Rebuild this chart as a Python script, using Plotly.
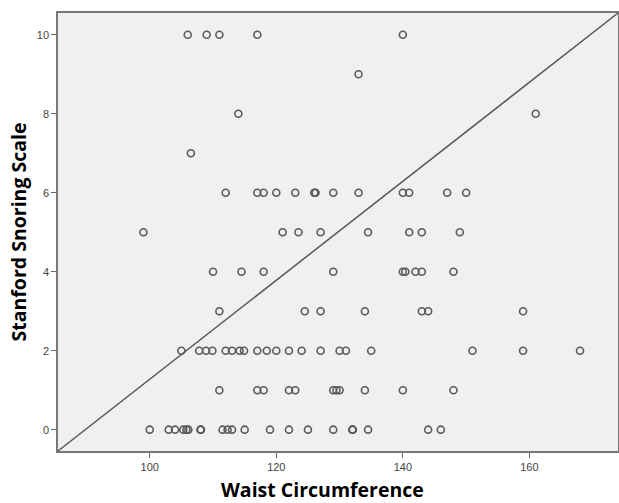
import plotly.graph_objects as go

# Waist circumference values for each Stanford Snoring Scale score
waist_10 = [106, 109, 111, 117, 140]
waist_9 = [133]
waist_8 = [114, 161]
waist_7 = [106.5]
waist_6 = [112, 117, 118, 120, 123, 126, 126.2, 129, 133, 140, 141, 147, 150]
waist_5 = [99, 121, 123.5, 127, 134.5, 141, 143, 149]
waist_4 = [110, 114.5, 118, 129, 140, 140.4, 142, 143, 148]
waist_3 = [111, 124.5, 127, 134, 143, 144, 159]
waist_2 = [105, 107.8, 108.9, 109.9, 112, 113, 114.2, 114.9, 117, 118.5, 120, 122,
           124, 127, 130, 131, 135, 151, 159, 168]
waist_1 = [111, 117, 118, 122, 123, 129, 129.5, 130, 134, 140, 148]
waist_0 = [100, 103, 104, 105.3, 105.8, 106.1, 108, 108.1, 111.5, 112.3, 113, 115,
           119, 122, 125, 129, 132, 132.1, 134.5, 144, 146]

scores = [10, 9, 8, 7, 6, 5, 4, 3, 2, 1, 0]
groups = [waist_10, waist_9, waist_8, waist_7, waist_6, waist_5, waist_4,
          waist_3, waist_2, waist_1, waist_0]

x_vals, y_vals = [], []
for s, g in zip(scores, groups):
    x_vals.extend(g)
    y_vals.extend([s] * len(g))

x_ticks = [100, 120, 140, 160]
y_ticks = [0, 2, 4, 6, 8, 10]

fig = go.Figure()
fig.add_trace(go.Scatter(
    x=x_vals, y=y_vals, mode="markers",
    marker=dict(symbol="circle-open", size=7, color="#5a5a5a",
                line=dict(width=1.6, color="#5a5a5a")),
    showlegend=False, hoverinfo="x+y",
))

fig.add_shape(type="line", xref="paper", yref="paper", x0=0, y0=0, x1=1, y1=1,
              line=dict(color="#555555", width=1.5))

axis_common = dict(
    showline=True, linecolor="#777777", linewidth=1.5, mirror=True,
    showgrid=False, zeroline=False, ticks="outside", ticklen=5,
    tickcolor="#666666", tickwidth=1.2, automargin=False,
    tickfont=dict(family="Liberation Sans, Arial, sans-serif", size=11, color="#444444"),
)

title_font = dict(family="Open Sans, Calibri, sans-serif", size=19.5, color="black")

fig.add_annotation(text="<b>Waist Circumference</b>", xref="paper", yref="paper",
                   x=0.473, y=-0.087, xanchor="center", yanchor="middle",
                   borderpad=0, showarrow=False, font=title_font)

fig.update_layout(
    width=619, height=503,
    margin=dict(l=58, r=1, t=13, b=52),
    paper_bgcolor="white", plot_bgcolor="#f0f0f0",
    xaxis=dict(range=[85.5, 174], tickvals=x_ticks, **axis_common),
    yaxis=dict(range=[-0.54, 10.55], tickvals=y_ticks,
               title=dict(text="<b>Stanford Snoring Scale</b>", standoff=5, font=title_font),
               **axis_common),
)

fig.write_html("out.html", config={"displayModeBar": False},
               post_script="document.body.style.margin='0';document.body.style.overflow='hidden';")
